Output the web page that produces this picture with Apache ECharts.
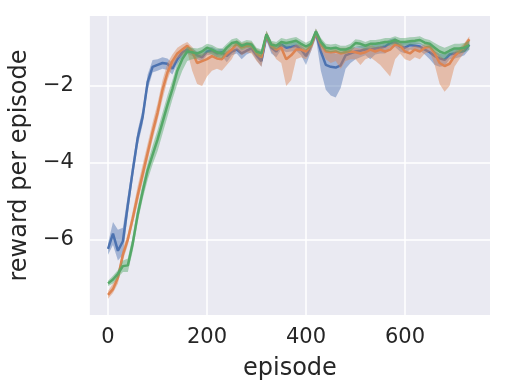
<!DOCTYPE html>
<html>
<head>
<meta charset="utf-8">
<script src="https://cdn.jsdelivr.net/npm/echarts@6/dist/echarts.min.js"></script>
<style>
  html, body { margin: 0; padding: 0; background: #ffffff; }
  #chart { width: 505px; height: 392px; }
</style>
</head>
<body>
<div id="chart"></div>
<script>
const episodes = [0, 10, 20, 30, 40, 50, 60, 70, 80, 90, 100, 110, 120, 130, 140, 150, 160, 170, 180, 190,
  200, 210, 220, 230, 240, 250, 260, 270, 280, 290, 300, 310, 320, 330, 340, 350, 360, 370, 380, 390,
  400, 410, 420, 430, 440, 450, 460, 470, 480, 490, 500, 510, 520, 530, 540, 550, 560, 570, 580, 590,
  600, 610, 620, 630, 640, 650, 660, 670, 680, 690, 700, 710, 720, 730]

const xTicks = [0, 200, 400, 600]
const yTicks = [-6, -4, -2]

// blue run
const blueMean = [-6.25, -5.85, -6.3, -6.05, -5.1, -4.2, -3.35, -2.8, -1.9, -1.5, -1.45, -1.4, -1.42, -1.55, -1.3, -1.12, -1.05, -1.12, -1.2, -1.25,
  -1.1, -1.08, -1.15, -1.12, -1.22, -1.1, -1.05, -1.15, -1.08, -1.02, -1.2, -1.35, -0.7, -1.0, -1.1, -0.92, -1.0, -0.98, -0.95, -1.05,
  -1.22, -0.95, -0.62, -1.1, -1.45, -1.5, -1.52, -1.46, -1.2, -1.15, -1.1, -1.08, -1.05, -1.05, -1.02, -1.0, -0.97, -0.88, -0.85, -0.97,
  -1.0, -0.93, -0.95, -0.97, -1.05, -1.12, -1.22, -1.28, -1.32, -1.18, -1.15, -1.12, -1.08, -0.92]
const blueLow = [-6.4, -6.15, -6.55, -6.4, -5.35, -4.4, -3.55, -3.0, -2.1, -1.65, -1.6, -1.55, -1.58, -1.7, -1.42, -1.25, -1.15, -1.22, -1.3, -1.35,
  -1.2, -1.18, -1.25, -1.22, -1.38, -1.2, -1.15, -1.3, -1.18, -1.12, -1.32, -1.5, -0.82, -1.15, -1.25, -1.05, -1.12, -1.1, -1.08, -1.2,
  -1.45, -1.1, -0.75, -1.6, -2.1, -2.25, -2.3, -2.05, -1.55, -1.4, -1.3, -1.25, -1.2, -1.3, -1.18, -1.15, -1.15, -1.0, -0.98, -1.1,
  -1.15, -1.05, -1.08, -1.08, -1.18, -1.3, -1.45, -1.5, -1.48, -1.3, -1.28, -1.25, -1.2, -1.05]
const blueHigh = [-6.1, -5.55, -5.75, -5.7, -4.85, -4.0, -3.15, -2.6, -1.7, -1.32, -1.3, -1.25, -1.28, -1.4, -1.18, -1.02, -0.95, -1.02, -1.1, -1.15,
  -1.0, -0.98, -1.05, -1.02, -1.1, -1.0, -0.95, -1.05, -0.98, -0.92, -1.1, -1.22, -0.6, -0.9, -0.98, -0.82, -0.9, -0.88, -0.85, -0.95,
  -1.05, -0.85, -0.52, -0.85, -1.05, -1.1, -1.15, -1.15, -1.05, -1.0, -0.98, -0.95, -0.95, -0.95, -0.9, -0.88, -0.85, -0.78, -0.75, -0.85,
  -0.88, -0.82, -0.85, -0.87, -0.95, -1.0, -1.1, -1.15, -1.18, -1.05, -1.03, -1.0, -0.97, -0.82]

// orange run
const orangeMean = [-7.45, -7.3, -7.0, -6.4, -6.0, -5.45, -4.85, -4.3, -3.75, -3.2, -2.7, -2.1, -1.65, -1.35, -1.15, -1.05, -0.95, -1.1, -1.4, -1.35,
  -1.3, -1.22, -1.28, -1.3, -1.15, -1.05, -0.9, -1.0, -0.95, -0.95, -1.15, -1.25, -0.65, -0.95, -1.05, -1.0, -1.3, -1.2, -1.05, -1.05,
  -1.1, -0.95, -0.6, -0.9, -1.1, -1.12, -1.1, -1.15, -1.12, -1.1, -1.12, -1.15, -1.12, -1.05, -1.1, -1.05, -1.1, -1.05, -0.92, -0.95,
  -1.1, -1.15, -1.05, -1.1, -1.0, -0.97, -1.15, -1.4, -1.48, -1.42, -1.22, -1.1, -0.97, -0.78]
const orangeLow = [-7.55, -7.4, -7.15, -6.55, -6.15, -5.6, -5.05, -4.5, -3.95, -3.4, -2.9, -2.35, -1.85, -1.5, -1.28, -1.2, -1.1, -1.6, -1.95, -2.0,
  -1.75, -1.6, -1.55, -1.6, -1.45, -1.3, -1.05, -1.2, -1.12, -1.15, -1.35, -1.5, -0.8, -1.1, -1.3, -1.4, -2.0, -1.85, -1.3, -1.25,
  -1.3, -1.1, -0.72, -1.05, -1.3, -1.4, -1.35, -1.55, -1.35, -1.3, -1.3, -1.45, -1.3, -1.25, -1.35, -1.45, -1.6, -1.75, -1.3, -1.15,
  -1.3, -1.35, -1.25, -1.3, -1.15, -1.1, -1.45, -1.95, -2.15, -2.0, -1.5, -1.3, -1.12, -0.9]
const orangeHigh = [-7.35, -7.15, -6.9, -6.25, -5.85, -5.25, -4.6, -4.05, -3.5, -2.95, -2.45, -1.85, -1.4, -1.18, -1.0, -0.92, -0.85, -0.98, -1.15, -1.15,
  -1.12, -1.08, -1.1, -1.12, -1.0, -0.92, -0.8, -0.88, -0.85, -0.85, -1.02, -1.1, -0.55, -0.85, -0.92, -0.9, -1.05, -1.0, -0.92, -0.92,
  -0.98, -0.85, -0.5, -0.8, -0.98, -1.0, -0.98, -1.0, -1.0, -0.98, -1.0, -1.02, -1.0, -0.92, -0.98, -0.95, -0.98, -0.92, -0.82, -0.85,
  -0.98, -1.0, -0.95, -0.98, -0.9, -0.88, -1.02, -1.2, -1.3, -1.25, -1.1, -1.0, -0.88, -0.7]

// green run
const greenMean = [-7.15, -7.05, -6.9, -6.7, -6.68, -6.1, -5.35, -4.75, -4.2, -3.8, -3.4, -2.95, -2.5, -2.08, -1.6, -1.3, -1.1, -1.12, -1.15, -1.1,
  -1.0, -1.05, -1.12, -1.15, -1.0, -0.88, -0.85, -0.95, -0.9, -0.92, -1.1, -1.15, -0.65, -0.92, -0.95, -0.85, -0.88, -0.85, -0.82, -0.9,
  -0.97, -0.9, -0.58, -0.85, -1.0, -1.02, -1.0, -1.05, -1.05, -1.0, -0.88, -0.9, -0.95, -0.9, -0.9, -0.88, -0.85, -0.85, -0.8, -0.85,
  -0.85, -0.83, -0.82, -0.8, -0.87, -0.9, -1.0, -1.1, -1.15, -1.08, -1.02, -1.02, -1.0, -0.93]
const greenLow = [-7.22, -7.15, -7.0, -6.85, -6.85, -6.3, -5.55, -4.95, -4.45, -4.05, -3.7, -3.25, -2.8, -2.35, -1.95, -1.6, -1.35, -1.3, -1.28, -1.22,
  -1.12, -1.18, -1.25, -1.28, -1.12, -0.98, -0.95, -1.07, -1.0, -1.02, -1.2, -1.25, -0.75, -1.02, -1.05, -0.95, -0.98, -0.95, -0.92, -1.0,
  -1.07, -1.0, -0.68, -0.95, -1.1, -1.12, -1.1, -1.15, -1.15, -1.1, -0.98, -1.0, -1.05, -1.0, -1.0, -0.98, -0.95, -0.95, -0.9, -0.95,
  -0.95, -0.93, -0.92, -0.9, -0.97, -1.0, -1.12, -1.25, -1.3, -1.2, -1.12, -1.13, -1.12, -1.05]
const greenHigh = [-7.08, -6.95, -6.8, -6.55, -6.5, -5.9, -5.15, -4.55, -4.0, -3.55, -3.15, -2.7, -2.25, -1.85, -1.4, -1.15, -0.98, -1.0, -1.02, -0.98,
  -0.9, -0.93, -1.0, -1.03, -0.9, -0.78, -0.75, -0.85, -0.8, -0.82, -1.0, -1.05, -0.56, -0.82, -0.85, -0.75, -0.78, -0.75, -0.72, -0.8,
  -0.87, -0.8, -0.5, -0.75, -0.9, -0.92, -0.9, -0.95, -0.95, -0.9, -0.78, -0.8, -0.85, -0.8, -0.8, -0.78, -0.75, -0.75, -0.7, -0.75,
  -0.75, -0.73, -0.72, -0.7, -0.77, -0.8, -0.88, -0.95, -1.0, -0.95, -0.9, -0.9, -0.88, -0.82]

const runs = [
  { color: '#4C72B0', mean: blueMean, low: blueLow, high: blueHigh },
  { color: '#DD8452', mean: orangeMean, low: orangeLow, high: orangeHigh },
  { color: '#55A868', mean: greenMean, low: greenLow, high: greenHigh }
]

const FONT = 'DejaVu Sans'
const minus = (v) => String(v).replace('-', '\u2212')

function bandRenderer(run) {
  return function (params, api) {
    if (params.dataIndex !== 0) return null
    const pts = []
    for (let i = 0; i < episodes.length; i++) pts.push(api.coord([episodes[i], run.low[i]]))
    for (let i = episodes.length - 1; i >= 0; i--) pts.push(api.coord([episodes[i], run.high[i]]))
    return {
      type: 'polygon',
      shape: { points: pts },
      style: { fill: run.color, opacity: 0.45 }
    }
  }
}

function buildSeries() {
  const series = []
  runs.forEach((run, k) => {
    series.push({
      type: 'custom',
      renderItem: bandRenderer(run),
      data: episodes.map((ep, i) => [ep, run.low[i], run.high[i]]),
      encode: { x: 0, y: [1, 2] },
      silent: true,
      z: 2 + k * 2
    })
    series.push({
      type: 'line',
      data: episodes.map((ep, i) => [ep, run.mean[i]]),
      symbol: 'none',
      lineStyle: { color: run.color, width: 2.5 },
      z: 3 + k * 2
    })
  })
  return series
}

const chart = echarts.init(document.getElementById('chart'), null, { renderer: 'canvas' })
chart.setOption({
  animation: false,
  backgroundColor: '#ffffff',
  grid: { left: 87, right: 15, top: 16, bottom: 77, show: true, backgroundColor: '#EAEAF2', borderWidth: 0 },
  xAxis: {
    type: 'value',
    min: -36.75,
    max: 771.75,
    name: 'episode',
    nameLocation: 'middle',
    nameGap: 42,
    nameTextStyle: { fontFamily: FONT, fontSize: 24, color: '#262626' },
    axisLine: { show: false },
    axisTick: { show: false, customValues: xTicks },
    axisLabel: { customValues: xTicks, fontFamily: FONT, fontSize: 21, color: '#262626', margin: 12 },
    splitLine: { show: true, lineStyle: { color: '#ffffff', width: 1.5 } }
  },
  yAxis: {
    type: 'value',
    min: -7.975,
    max: -0.174,
    name: 'reward per episode',
    nameLocation: 'middle',
    nameGap: 53,
    nameRotate: 90,
    nameTextStyle: { fontFamily: FONT, fontSize: 24, color: '#262626' },
    axisLine: { show: false },
    axisTick: { show: false, customValues: yTicks },
    axisLabel: { customValues: yTicks, fontFamily: FONT, fontSize: 21, color: '#262626', margin: 16, formatter: minus },
    splitLine: { show: true, lineStyle: { color: '#ffffff', width: 1.5 } }
  },
  series: buildSeries()
})
</script>
</body>
</html>
